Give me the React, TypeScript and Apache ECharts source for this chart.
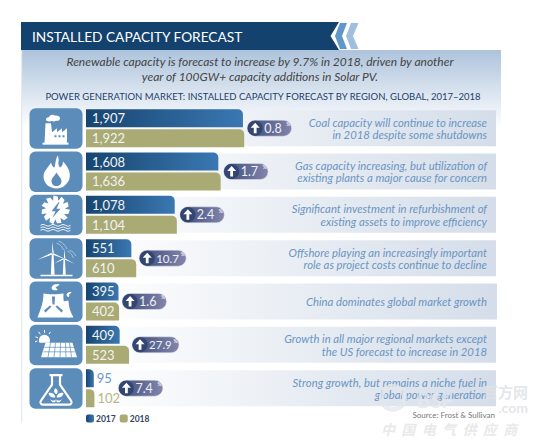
import React, { useEffect, useRef } from "react";
import * as echarts from "echarts";

const categories = ["Coal", "Gas", "Hydro", "Wind", "Nuclear", "Solar", "Bio"];
const values2017 = [1907, 1608, 1078, 551, 395, 409, 95];
const values2018 = [1922, 1636, 1104, 610, 402, 523, 102];
const growth = ["0.8", "1.7", "2.4", "10.7", "1.6", "27.9", "7.4"];
const notes = [
  ["Coal capacity will continue to increase", "in 2018 despite some shutdowns"],
  ["Gas capacity increasing, but utilization of", "existing plants a major cause for concern"],
  ["Significant investment in refurbishment of", "existing assets to improve efficiency"],
  ["Offshore playing an increasingly important", "role as project costs continue to decline"],
  ["China dominates global market growth"],
  ["Growth in all major regional markets except", "the US forecast to increase in 2018"],
  ["Strong growth, but remains a niche fuel in", "global power generation"],
];

const FONT = "Lato";
const TOP = 106.5;
const BAND = 43.33;
const ICON_BLUE = "#5c8cba";

function gearPath(cx: number, cy: number, R: number, r: number, n: number) {
  let d = "";
  for (let i = 0; i < n; i++) {
    const a = (i / n) * Math.PI * 2;
    const b = ((i + 0.55) / n) * Math.PI * 2;
    const c = ((i + 0.8) / n) * Math.PI * 2;
    const p = (ang: number, rad: number) => `${(cx + Math.cos(ang) * rad).toFixed(1)} ${(cy + Math.sin(ang) * rad).toFixed(1)}`;
    d += `${i ? "L" : "M"}${p(a, R)}L${p(b, R - 1)}L${p(c, r)}`;
  }
  return d + "z";
}

type Part = { d: string; fill?: string; stroke?: string; w?: number };
const W = "#ffffff";
const iconParts: Part[][] = [
  [
    { d: "M17 12.5c-1.5-2 .5-3.5 2.5-3.5c1-2.5 4.5-3 6-1.5c2-.5 5 .5 5 2.5c0 2-2 3-4 2.5c-1 1-3 1-4 .3c-1.500 .7-4 .7-5.500-.3z", fill: W },
    { d: "M16 15h5.500l1 9 5-4v4l5-4v4l5-4v15H15z", fill: W },
    { d: "M13 34.500h26v2H13z", fill: W },
    { d: "M25 27h2v2h-2zM29 27h2v2h-2zM33 27h2v2h-2z", fill: ICON_BLUE },
  ],
  [
    { d: "M28 4c3 5-1 8 2.500 12c2-1 3-3 3-6c5 5 8 11 6.500 17c-2 6-7 10-13 10c-7 0-13-5-13-12c0-6 5-9 7.500-14c1 3 1.500 4.500 3.500 5c1-4 1-8 3-12z", fill: W },
    { d: "M27 21c2 3.500 5 5.500 5 8.500c0 3-2.200 5-5 5c-3 0-5-2-5-5c0-3 3-5 5-8.500z", fill: ICON_BLUE },
  ],
  [
    { d: gearPath(26, 15, 14.500, 9.500, 11), fill: W },
    { d: "M29 7.500l-7 9h4l-3 6.500 8-9h-4l3-6.500z", fill: ICON_BLUE },
    { d: "M11 30.500q2.500-2 5 0t5 0t5 0t5 0t5 0t5 0", stroke: W, w: 0.9 },
    { d: "M11 33q2.500-2 5 0t5 0t5 0t5 0t5 0t5 0", stroke: W, w: 0.9 },
    { d: "M11 35.500q2.500-2 5 0t5 0t5 0t5 0t5 0t5 0", stroke: W, w: 0.9 },
  ],
  [
    { d: "M22.500 3l1.800 12-1.500 .5zM8 21.500l14-7 1 1.800zM37 21.500l-14-7-.8 1.500z", fill: W },
    { d: "M22.300 16h1.800l1 20.500h-3.800z", fill: W },
    { d: "M34.500 10l1.300 9.500-1.300 .3zM24 25.500l10.500-6 .8 1.300zM45 25.500l-10.500-6-.7 1.300z", fill: W },
    { d: "M34 21h1.500l.8 15.500h-3z", fill: W },
    { d: "M11 36.500h32v1.500H11z", fill: W },
    { d: "M27 5c4 1 6 4 7 7M29 3c4 1 7 4 8.500 8M38 13c3 1 5 4 6 7M40 12c3 1 5 3 6.500 6", stroke: "#b8cfe6", w: 0.8 },
  ],
  [
    { d: "M14 12c4 1 14 1 20 0c-1 9 3 16 6 24H8c3-8 6-15 6-24z", fill: W },
    { d: "M33 20l6-1c0 6 2 12 5 17h-6z", fill: W },
    { d: "M22 6c1-3 5-4 8-3c-1 1.500-3 2-4 3c1 1 2 1.500 2 2.500c-3 1-6 0-6-2.500zM37 13c1-2 3-3 5-2c-1 1-2 1.500-2.500 2c.5 1 .5 2-.5 2.500c-1 0-2-1-2-2.500z", fill: W },
    { d: "M22.500 15h3l-.5 8h-2zM22 25l-6 6-1.500-2 6-5zM26 25l6 6 1.500-2-6-5z", fill: ICON_BLUE },
  ],
  [
    { d: "M15 10a5.500 5.500 0 0 1 5.500 5.500c0 .8-.2 1.500-.5 2.500H10a5.500 5.500 0 0 1 5-8z", fill: W },
    { d: "M15 5v3M9 7l1.800 2.500M6 12l2.500 1M21 7l-1.500 2.200M5.500 17l2.500-.8", stroke: W, w: 1 },
    { d: "M16 18h27l4.500 14.500H11.500z", fill: W },
    { d: "M15 22.500h30M14 27h32M21 18l-2.500 14.500M26 18l-1.500 14.500M31 18l-.5 14.500M36 18l.5 14.500M40 18l2 14.500", stroke: ICON_BLUE, w: 0.7 },
  ],
  [
    { d: "M20 7h13M22.500 7v9.500L11.500 32.500c-1.500 2.500 0 4 2.500 4h25c2.500 0 4-1.500 2.500-4L30.500 16.500V7", stroke: W, w: 2.2 },
    { d: "M26 20c2.500 1.500 3 4 1 6c-2.500-1-3.500-4-1-6zM19 25c3-1 6 .5 7 4c-3 1-6 0-7-4zM34 25c-3-1-6 .5-7 4c3 1 6 0 7-4zM20 30.500c2 2 5 2.500 6 .5v3h-3zM33 30.500c-2 2-5 2.500-6 .5v3h3z", fill: W },
  ],
];

iconParts.forEach((parts, i) =>
  parts.forEach((p, j) => {
    echarts.graphic.registerShape(`icon${i}_${j}`, echarts.graphic.extendPath(p.d, {}));
  })
);

const grad = (x: number, y: number, x2: number, y2: number, a: string, b: string) =>
  new echarts.graphic.LinearGradient(x, y, x2, y2, [
    { offset: 0, color: a },
    { offset: 1, color: b },
  ]);

function buildGraphic() {
  const els: any[] = [
    { type: "rect", shape: { x: 21, y: 50, width: 480, height: 78 }, style: { fill: grad(0, 0, 0, 1, "#adc3dc", "#ffffff") } },
    { type: "polygon", shape: { points: [[21, 22], [339, 22], [330.5, 36], [339, 50], [21, 50]] }, style: { fill: "#14426e" } },
    { type: "polygon", shape: { points: [[340, 23], [347, 23], [342, 36], [347, 49], [340, 49], [335, 36]] }, style: { fill: "#5f97c9" } },
    { type: "polygon", shape: { points: [[351, 23], [358.5, 23], [353, 36], [358.5, 49], [351, 49], [346, 36]] }, style: { fill: "#a0bedd" } },
    { type: "rect", shape: { x: 21, y: 50, width: 1.2, height: 373 }, style: { fill: "#e3eaf2" } },
    { type: "text", x: 32, y: 36, style: { text: "INSTALLED CAPACITY FORECAST", fill: "#ffffff", font: `13.7px ${FONT}`, textVerticalAlign: "middle" } },
    { type: "text", x: 260, y: 61, style: { text: "Renewable capacity is forecast to increase by 9.7% in 2018, driven by another", fill: "#444444", font: `italic 12px ${FONT}`, textAlign: "center", textVerticalAlign: "middle" } },
    { type: "text", x: 260, y: 76, style: { text: "year of 100GW+ capacity additions in Solar PV.", fill: "#444444", font: `italic 12px ${FONT}`, textAlign: "center", textVerticalAlign: "middle" } },
    { type: "text", x: 263, y: 96, style: { text: "POWER GENERATION MARKET: INSTALLED CAPACITY FORECAST BY REGION, GLOBAL, 2017–2018", fill: "#1c3e6b", font: `9.5px ${FONT}`, textAlign: "center", textVerticalAlign: "middle" } },
  ];
  categories.forEach((_, i) => {
    const c = TOP + BAND * (i + 0.5);
    els.push({
      type: "rect",
      shape: { x: 86, y: c - 18, width: i === 4 ? 411 : 410, height: 36 },
      style: { fill: grad(0, 0, 1, 0, "#ffffff", "#d4dde9") },
    });
    els.push({
      type: "group",
      x: 29.5,
      y: c - 20,
      children: [
        { type: "rect", shape: { x: 0, y: 0, width: 53, height: 40.5, r: 6 }, style: { fill: ICON_BLUE } },
        ...iconParts[i].map((p, j) => ({
          type: `icon${i}_${j}`,
          style: p.stroke
            ? { fill: "none", stroke: p.stroke, lineWidth: p.w }
            : { fill: p.fill },
        })),
      ],
    });
    const lines = notes[i];
    lines.forEach((t, k) => {
      els.push({
        type: "text",
        x: 487,
        y: c + (lines.length === 1 ? 0 : k === 0 ? -6 : 6.5),
        style: { text: t, fill: "#6b95c3", font: `italic 11.3px ${FONT}`, textAlign: "right", textVerticalAlign: "middle" },
      });
    });
  });
  els.push(
    { type: "text", x: 495, y: 415, style: { text: "Source: Frost & Sullivan", fill: "#777777", font: `8px ${FONT}`, textAlign: "right", textVerticalAlign: "middle" } },
    { type: "ring", shape: { cx: 393, cy: 398, r: 14, r0: 9 }, style: { fill: "rgba(228,231,235,0.75)" } },
    { type: "text", x: 417, y: 400, style: { text: "BSF", fill: "rgba(230,233,237,0.8)", font: `bold 20px ${FONT}`, textVerticalAlign: "middle" } },
    { type: "text", x: 528, y: 391, style: { text: "百方网", fill: "rgba(224,226,230,0.85)", font: `bold 15px "Noto Sans CJK SC"`, textAlign: "right", textVerticalAlign: "middle" } },
    { type: "text", x: 528, y: 407, style: { text: ".com", fill: "rgba(224,226,230,0.85)", font: `bold 14px ${FONT}`, textAlign: "right", textVerticalAlign: "middle" } },
    { type: "text", x: 381, y: 428.5, style: { text: "中  国  电  气  供  应  商", fill: "#e9e9e9", font: `italic bold 14px "Noto Sans CJK SC"`, textVerticalAlign: "middle" } }
  );
  return els;
}

function barData(values: number[], outside: string) {
  return values.map((v) =>
    v < 200 ? { value: v, label: { position: "right", distance: 3, color: outside } } : { value: v }
  );
}

function renderPill(params: any, api: any) {
  const i = api.value(1);
  const max = api.value(0);
  const [ex, cy] = api.coord([max, i]);
  const x = ex + (max < 200 ? 24 : 3);
  const text = growth[i];
  const long = text.length > 3;
  const w = long ? 47 : 44.5;
  return {
    type: "group",
    children: [
      {
        type: "rect",
        shape: { x, y: cy - 8, width: w, height: 16, r: 8 },
        style: { fill: grad(0, 0, 1, 0, "#3b4b7a", "#8385ab"), stroke: "#e6eaf2", lineWidth: 0.5 },
      },
      { type: "circle", shape: { cx: x + 8, cy, r: 7.5 }, style: { fill: "#33466f" } },
      {
        type: "polygon",
        shape: {
          points: [
            [x + 8, cy - 5.5], [x + 12.5, cy - 0.5], [x + 9.4, cy - 0.5], [x + 9.4, cy + 5],
            [x + 6.6, cy + 5], [x + 6.6, cy - 0.5], [x + 3.5, cy - 0.5],
          ],
        },
        style: { fill: "#ffffff" },
      },
      {
        type: "text",
        x: x + 17,
        y: cy,
        style: { text, fill: "#eef0f6", font: `${long ? 11.5 : 12.5}px ${FONT}`, textVerticalAlign: "middle" },
      },
      {
        type: "text",
        x: x + w - 5.5,
        y: cy - 4,
        style: { text: "%", fill: "#eef0f6", font: `bold 5px ${FONT}`, textVerticalAlign: "middle" },
      },
    ],
  };
}

export default function App() {
  const ref = useRef<HTMLDivElement>(null);
  useEffect(() => {
    if (!ref.current) return;
    document.body.style.margin = "0";
    const chart = echarts.init(ref.current, undefined, { renderer: "svg" });
    const labelBase = {
      show: true,
      position: "insideLeft",
      distance: 6,
      color: "#f2f2f2",
      fontFamily: FONT,
      fontSize: 13,
      formatter: (p: any) => Number(p.value).toLocaleString("en-US"),
    };
    chart.setOption({
      animation: false,
      backgroundColor: "#ffffff",
      grid: { left: 86, top: TOP, width: 164.6, height: BAND * 7 },
      xAxis: { type: "value", min: 0, max: 2000, show: false },
      yAxis: { type: "category", data: categories, inverse: true, show: false },
      legend: {
        left: 86,
        top: 414,
        padding: 0,
        itemWidth: 8,
        itemHeight: 8,
        itemGap: 4,
        data: ["2017", "2018"],
        textStyle: { fontFamily: FONT, fontSize: 8.5, fontWeight: "bold", color: "#33475f", padding: [0, 0, 0, -3] },
      },
      graphic: { elements: buildGraphic() },
      series: [
        {
          name: "2017",
          type: "bar",
          barWidth: 18,
          barGap: "11%",
          data: barData(values2017, "#6b97c8"),
          itemStyle: { color: grad(0, 0, 1, 0, "#174570", "#3a78b2"), borderRadius: [0, 5, 0, 0] },
          label: labelBase,
        },
        {
          name: "2018",
          type: "bar",
          barWidth: 18,
          data: barData(values2018, "#b8b684"),
          itemStyle: { color: "#a9aa74", borderRadius: [0, 5, 0, 0] },
          label: labelBase,
        },
        {
          name: "growth",
          type: "custom",
          renderItem: renderPill,
          encode: { x: 0, y: 1 },
          data: categories.map((_, i) => [Math.max(values2017[i], values2018[i]), i]),
          z: 5,
        },
      ],
    });
    return () => chart.dispose();
  }, []);
  return <div ref={ref} style={{ position: "absolute", left: 0, top: 0, width: 536, height: 443 }} />;
}
